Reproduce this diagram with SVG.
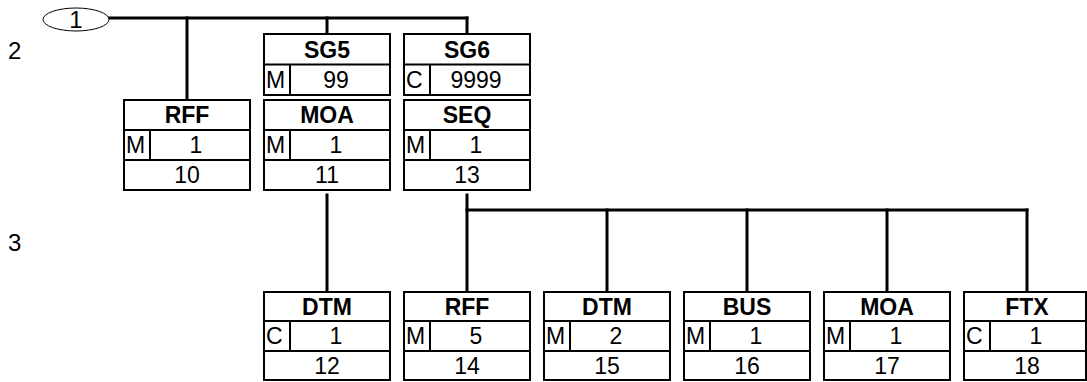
<svg xmlns="http://www.w3.org/2000/svg" width="1087" height="382" viewBox="0 0 1087 382">
<style>
.bx rect{fill:#fff;stroke:#000;stroke-width:2}
.bx line{stroke:#000;stroke-width:2}
text{font-family:"Liberation Sans",Arial,sans-serif;font-size:23px;fill:#000;text-anchor:middle}
.h{font-weight:bold}
.s{text-anchor:start}
#connectors line{stroke:#000;stroke-width:3;stroke-linecap:square}
</style>
<rect width="1087" height="382" fill="#fff"/>
<g id="levels">
<text class="s" x="8" y="59" style="font-size:24px">2</text>
<text class="s" x="8" y="251" style="font-size:24px">3</text>
</g>
<g id="connectors">
<line x1="109" y1="18" x2="467" y2="18"/>
<line x1="187" y1="18" x2="187" y2="99"/>
<line x1="327" y1="18" x2="327" y2="33"/>
<line x1="467" y1="18" x2="467" y2="33"/>
<line x1="327" y1="195" x2="327" y2="291"/>
<line x1="467" y1="195" x2="467" y2="291"/>
<line x1="467" y1="210" x2="1027" y2="210"/>
<line x1="607" y1="210" x2="607" y2="291"/>
<line x1="747" y1="210" x2="747" y2="291"/>
<line x1="887" y1="210" x2="887" y2="291"/>
<line x1="1027" y1="210" x2="1027" y2="291"/>
</g>
<g id="root">
<ellipse cx="76" cy="19.5" rx="33" ry="11.5" fill="#fff" stroke="#000" stroke-width="1"/>
<text x="76" y="28" style="font-size:24px">1</text>
</g>
<g id="SG5" class="bx">
<rect x="264" y="34" width="126" height="61"/>
<line x1="264" y1="64.5" x2="390" y2="64.5"/>
<line x1="290" y1="64.5" x2="290" y2="95"/>
<text class="h" x="327" y="57.5">SG5</text>
<text class="s" x="266" y="88">M</text>
<text x="336" y="88">99</text>
</g>
<g id="SG6" class="bx">
<rect x="404" y="34" width="126" height="61"/>
<line x1="404" y1="64.5" x2="530" y2="64.5"/>
<line x1="430" y1="64.5" x2="430" y2="95"/>
<text class="h" x="467" y="57.5">SG6</text>
<text class="s" x="406" y="88">C</text>
<text x="476" y="88">9999</text>
</g>
<g id="RFF10" class="bx">
<rect x="124" y="100" width="126" height="90"/>
<line x1="124" y1="130" x2="250" y2="130"/>
<line x1="124" y1="160" x2="250" y2="160"/>
<line x1="150" y1="130" x2="150" y2="160"/>
<text class="h" x="187" y="123">RFF</text>
<text class="s" x="126" y="153">M</text>
<text x="196" y="153">1</text>
<text x="187" y="183">10</text>
</g>
<g id="MOA11" class="bx">
<rect x="264" y="100" width="126" height="90"/>
<line x1="264" y1="130" x2="390" y2="130"/>
<line x1="264" y1="160" x2="390" y2="160"/>
<line x1="290" y1="130" x2="290" y2="160"/>
<text class="h" x="327" y="123">MOA</text>
<text class="s" x="266" y="153">M</text>
<text x="336" y="153">1</text>
<text x="327" y="183">11</text>
</g>
<g id="SEQ13" class="bx">
<rect x="404" y="100" width="126" height="90"/>
<line x1="404" y1="130" x2="530" y2="130"/>
<line x1="404" y1="160" x2="530" y2="160"/>
<line x1="430" y1="130" x2="430" y2="160"/>
<text class="h" x="467" y="123">SEQ</text>
<text class="s" x="406" y="153">M</text>
<text x="476" y="153">1</text>
<text x="467" y="183">13</text>
</g>
<g id="DTM12" class="bx">
<rect x="264" y="292" width="126" height="88"/>
<line x1="264" y1="321" x2="390" y2="321"/>
<line x1="264" y1="351" x2="390" y2="351"/>
<line x1="290" y1="321" x2="290" y2="351"/>
<text class="h" x="327" y="314.5">DTM</text>
<text class="s" x="266" y="344">C</text>
<text x="336" y="344">1</text>
<text x="327" y="373.5">12</text>
</g>
<g id="RFF14" class="bx">
<rect x="404" y="292" width="126" height="88"/>
<line x1="404" y1="321" x2="530" y2="321"/>
<line x1="404" y1="351" x2="530" y2="351"/>
<line x1="430" y1="321" x2="430" y2="351"/>
<text class="h" x="467" y="314.5">RFF</text>
<text class="s" x="406" y="344">M</text>
<text x="476" y="344">5</text>
<text x="467" y="373.5">14</text>
</g>
<g id="DTM15" class="bx">
<rect x="544" y="292" width="126" height="88"/>
<line x1="544" y1="321" x2="670" y2="321"/>
<line x1="544" y1="351" x2="670" y2="351"/>
<line x1="570" y1="321" x2="570" y2="351"/>
<text class="h" x="607" y="314.5">DTM</text>
<text class="s" x="546" y="344">M</text>
<text x="616" y="344">2</text>
<text x="607" y="373.5">15</text>
</g>
<g id="BUS16" class="bx">
<rect x="684" y="292" width="126" height="88"/>
<line x1="684" y1="321" x2="810" y2="321"/>
<line x1="684" y1="351" x2="810" y2="351"/>
<line x1="710" y1="321" x2="710" y2="351"/>
<text class="h" x="747" y="314.5">BUS</text>
<text class="s" x="686" y="344">M</text>
<text x="756" y="344">1</text>
<text x="747" y="373.5">16</text>
</g>
<g id="MOA17" class="bx">
<rect x="824" y="292" width="126" height="88"/>
<line x1="824" y1="321" x2="950" y2="321"/>
<line x1="824" y1="351" x2="950" y2="351"/>
<line x1="850" y1="321" x2="850" y2="351"/>
<text class="h" x="887" y="314.5">MOA</text>
<text class="s" x="826" y="344">M</text>
<text x="896" y="344">1</text>
<text x="887" y="373.5">17</text>
</g>
<g id="FTX18" class="bx">
<rect x="964" y="292" width="122" height="88"/>
<line x1="964" y1="321" x2="1086" y2="321"/>
<line x1="964" y1="351" x2="1086" y2="351"/>
<line x1="990" y1="321" x2="990" y2="351"/>
<text class="h" x="1027" y="314.5">FTX</text>
<text class="s" x="966" y="344">C</text>
<text x="1036" y="344">1</text>
<text x="1027" y="373.5">18</text>
</g>
</svg>
